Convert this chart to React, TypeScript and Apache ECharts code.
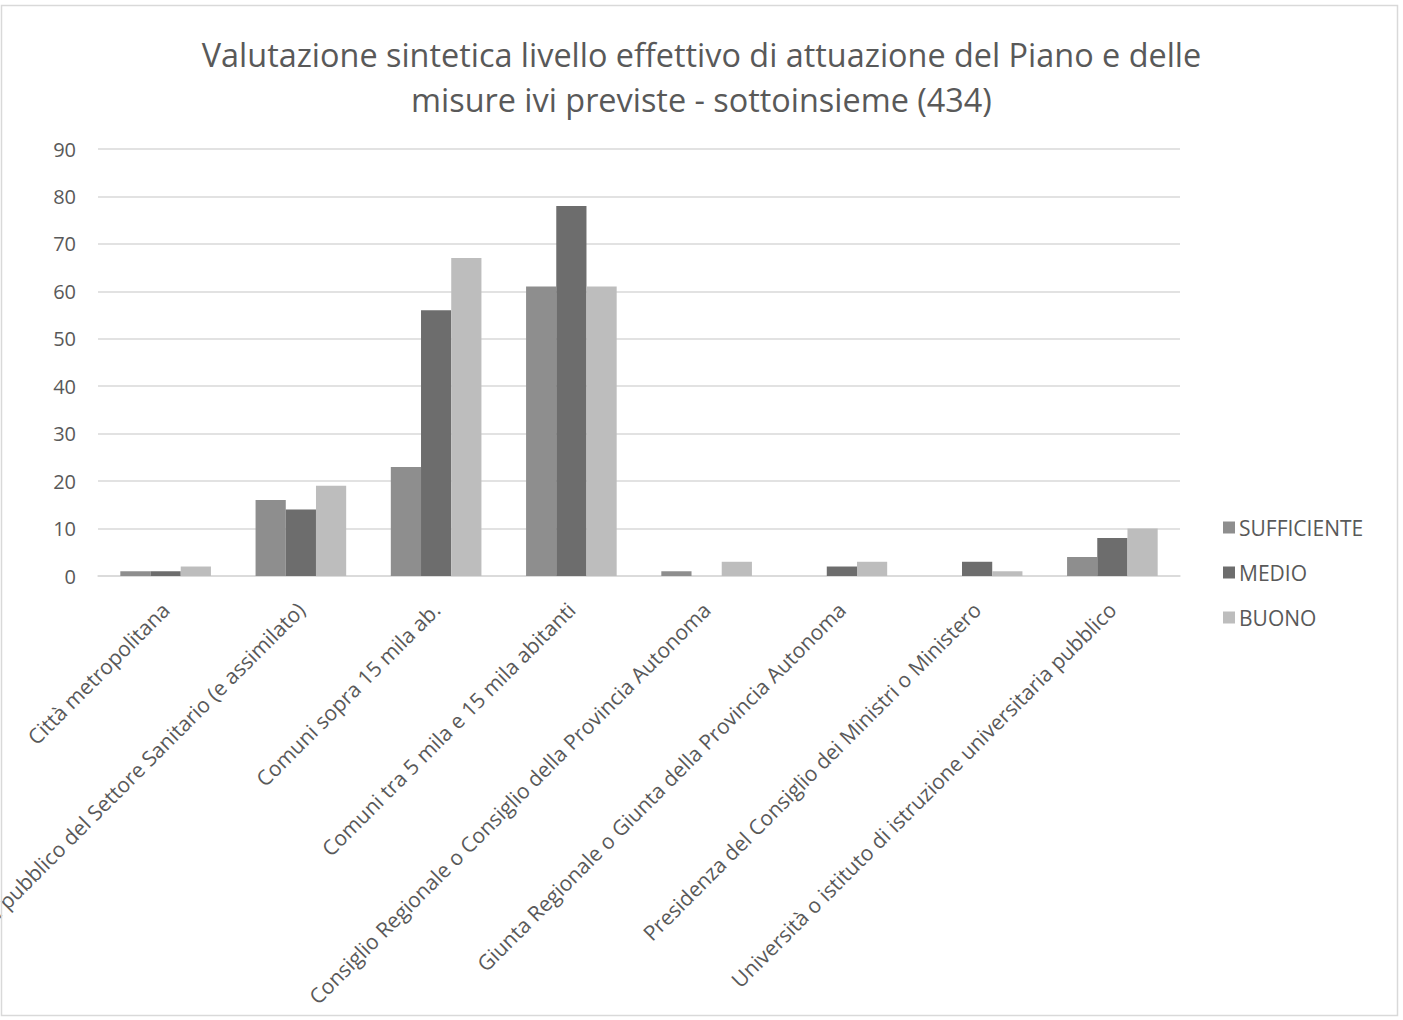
import React, { useEffect, useRef } from "react";
import * as echarts from "echarts";

const categories = [
  "Città metropolitana",
  "Ente pubblico del Settore Sanitario (e assimilato)",
  "Comuni sopra 15 mila ab.",
  "Comuni tra 5 mila e 15 mila abitanti",
  "Consiglio Regionale o Consiglio della Provincia Autonoma",
  "Giunta Regionale o Giunta della Provincia Autonoma",
  "Presidenza del Consiglio dei Ministri o Ministero",
  "Università o istituto di istruzione universitaria pubblico",
];
const sufficiente = [1, 16, 23, 61, 1, 0, 0, 4];
const medio = [1, 14, 56, 78, 0, 2, 3, 8];
const buono = [2, 19, 67, 61, 3, 3, 1, 10];
const seriesNames = ["SUFFICIENTE", "MEDIO", "BUONO"];
const colors = ["#8e8e8e", "#6d6d6d", "#bdbdbd"];

const FONT = "'Open Sans', 'Noto Sans', sans-serif";

export default function App() {
  const ref = useRef<HTMLDivElement>(null);
  useEffect(() => {
    if (!ref.current) return;
    const chart = echarts.init(ref.current, null, { renderer: "svg" });
    const data = [sufficiente, medio, buono];
    chart.setOption({
      animation: false,
      backgroundColor: "#ffffff",
      textStyle: { fontFamily: FONT },
      title: {
        text: "Valutazione sintetica livello effettivo di attuazione del Piano e delle\nmisure ivi previste - sottoinsieme (434)",
        left: "center",
        top: 26,
        textStyle: {
          fontFamily: FONT,
          fontSize: 32.4,
          fontWeight: "normal",
          color: "#595959",
          lineHeight: 45,
        },
      },
      legend: {
        orient: "vertical",
        left: 1218,
        top: 512,
        itemWidth: 12,
        itemHeight: 12,
        itemGap: 24,
        icon: "rect",
        data: seriesNames,
        textStyle: { fontFamily: FONT, fontSize: 21, color: "#595959", padding: [0, 0, 0, -1] },
      },
      grid: {
        left: 98,
        right: 223,
        top: 149,
        bottom: 444,
        containLabel: false,
        outerBoundsMode: "none",
      },
      xAxis: {
        type: "category",
        data: categories,
        axisLine: { show: true, lineStyle: { color: "#d9d9d9", width: 1.5 } },
        axisTick: { show: false },
        axisLabel: {
          rotate: 45,
          interval: 0,
          margin: 30,
          fontFamily: FONT,
          fontSize: 21,
          color: "#595959",
        },
      },
      yAxis: {
        type: "value",
        min: 0,
        max: 90,
        interval: 10,
        axisLine: { show: false },
        axisTick: { show: false },
        splitLine: { lineStyle: { color: "#d9d9d9", width: 1.5 } },
        axisLabel: { fontFamily: FONT, fontSize: 20, color: "#595959", margin: 22 },
      },
      series: seriesNames.map((name, i) => ({
        name,
        type: "bar",
        data: data[i],
        barGap: "0%",
        barCategoryGap: "33%",
        itemStyle: { color: colors[i] },
      })),
      graphic: [
        {
          type: "rect",
          shape: { x: 1.5, y: 5.5, width: 1396, height: 1010 },
          style: { fill: "none", stroke: "#d9d9d9", lineWidth: 1.5 },
          silent: true,
          z: 100,
        },
      ],
    });
    return () => chart.dispose();
  }, []);
  return (
    <div
      ref={ref}
      style={{ position: "fixed", left: 0, top: 0, width: 1403, height: 1020, background: "#fff" }}
    />
  );
}
